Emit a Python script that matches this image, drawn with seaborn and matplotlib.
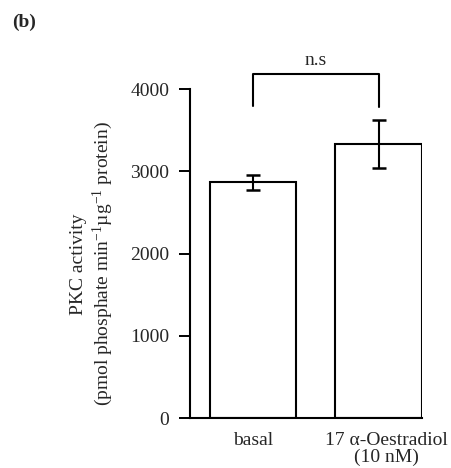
import matplotlib
matplotlib.use("Agg")
import matplotlib.pyplot as plt
import matplotlib.transforms as mtransforms
import numpy as np
import pandas as pd
import seaborn as sns

# values
conditions = ["basal", "17 \u03b1-Oestradiol\n(10 nM)"]
pkc_mean = [2865, 3330]
pkc_err = [95, 290]
y_ticks = [0, 1000, 2000, 3000, 4000]
bracket_top = 4180
bracket_legs = [3790, 3780]

sns.set_theme(style="white")
plt.rcParams["font.family"] = ["Liberation Serif", "DejaVu Serif"]
plt.rcParams["mathtext.fontset"] = "custom"
plt.rcParams["mathtext.rm"] = "Liberation Serif"
plt.rcParams["mathtext.it"] = "Liberation Serif:italic"

FS = 14

df = pd.DataFrame({"condition": conditions, "pkc": pkc_mean})

fig = plt.figure(figsize=(4.52, 4.68), dpi=100)
ax = fig.add_axes([0.4204, 0.1068, 0.5133, 0.703])

sns.barplot(data=df, x="condition", y="pkc", ax=ax, color="white",
            edgecolor="black", linewidth=1.5, width=0.69, errorbar=None)
for p in ax.patches:
    p.set_facecolor("white")
ax.errorbar(np.arange(len(conditions)), pkc_mean, yerr=pkc_err, fmt="none",
            ecolor="black", elinewidth=1.5, capsize=4.8, capthick=1.8)

ax.set_xlim(-0.50, 1.345)
ax.set_ylim(0, 4000)
ax.set_yticks(y_ticks)
ax.set_yticklabels([str(t) for t in y_ticks], fontsize=FS)
ax.tick_params(axis="y", length=8, width=1.4, pad=7, color="black", left=True)
ax.tick_params(axis="x", length=0, pad=10, labelsize=FS)
ax.set_xlabel("")
ax.set_ylabel("")
for side in ["top", "right"]:
    ax.spines[side].set_visible(False)
for side in ["left", "bottom"]:
    ax.spines[side].set_linewidth(1.5)
    ax.spines[side].set_color("black")

# nudge the second label a little right like the original
for lbl in ax.get_xticklabels():
    lbl.set_linespacing(0.95)
lbl = ax.get_xticklabels()[1]
lbl.set_transform(lbl.get_transform() +
                  mtransforms.ScaledTranslation(8 / 100, 0, fig.dpi_scale_trans))

# significance bracket
ax.plot([0, 0, 1, 1], [bracket_legs[0], bracket_top, bracket_top, bracket_legs[1]],
        color="black", lw=1.5, clip_on=False)
ax.text(0.5, bracket_top + 60, "n.s", ha="center", va="bottom", fontsize=FS)

fig.text(0.205, 0.436, "PKC activity\n(pmol phosphate min$^{-1}$\u00b5g$^{-1}$ protein)",
         rotation=90, ha="center", va="center", multialignment="center",
         fontsize=FS, linespacing=1.25)
fig.text(0.027, 0.953, "(b)", fontsize=14, fontweight="bold", ha="left", va="center")

fig.savefig("out.png", dpi=100)
